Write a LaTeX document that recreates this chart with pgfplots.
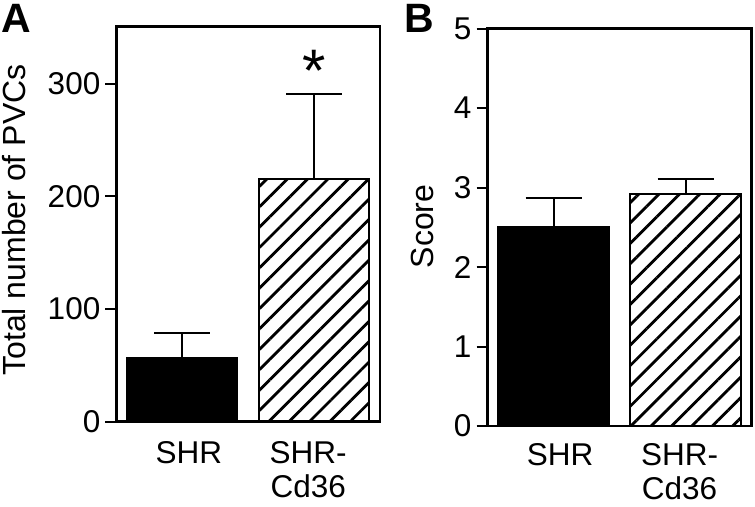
\documentclass[border=0pt]{standalone}
\usepackage{fontspec}
\setmainfont{Liberation Sans}
\usepackage{pgfplots}
\pgfplotsset{compat=1.18}
\usetikzlibrary{patterns.meta}
\begin{document}
\begin{tikzpicture}
\path[use as bounding box] (0,0) rectangle (755bp,-507bp);
\pgfplotsset{
  panel/.style={
    scale only axis, anchor=south west,
    xmin=-0.5, xmax=1.5, ymin=0,
    axis line style={line width=2.2bp},
    every tick/.style={line width=2bp, black},
    tick align=outside, major tick length=11bp,
    ytick pos=left, xtick pos=bottom,
    xtick style={draw=none},
    xtick={0.05,0.955}, xticklabels={SHR,SHR-\\Cd36},
    xticklabel style={align=center, anchor=north, inner sep=0pt, yshift=-9bp, font=\fontsize{31.5bp}{34bp}\selectfont},
    yticklabel style={anchor=east, inner sep=0pt, xshift=-5bp, font=\fontsize{31.5bp}{34bp}\selectfont},
    /pgf/number format/assume math mode=true,
    ylabel style={font=\fontsize{32bp}{34bp}\selectfont, anchor=base, inner sep=0pt},
    error bars/error bar style={line width=2bp, black},
    error bars/error mark options={rotate=90, mark size=28bp, line width=2bp, black},
  },
  blackbar/.style={ybar, bar shift=0pt, bar width=0.835, fill=black, draw=black, line width=2bp,
    error bars/.cd, y dir=plus, y explicit},
  hatchbar/.style={ybar, bar shift=0pt, bar width=0.835, draw=black, line width=2bp,
    pattern={Lines[angle=45,distance=14.4bp,line width=2.8bp]},
    error bars/.cd, y dir=plus, y explicit},
}
\begin{axis}[panel, at={(116.5bp,-421.5bp)}, width=263.5bp, height=395bp,
  ymax=351, ytick={0,100,200,300},
  ylabel={Total number of PVCs},
  ylabel style={at={(axis description cs:-0.347,0.51)}}]
\addplot[blackbar] coordinates {(0,56.4) +- (0,22.0)};
\addplot[hatchbar] coordinates {(1,215.6) +- (0,75.8)};
\node[anchor=base, inner sep=0pt, font=\fontsize{60bp}{60bp}\selectfont] at (axis cs:1,293) {*};
\end{axis}
\begin{axis}[panel, at={(487.5bp,-426bp)}, width=264bp, height=397.5bp,
  ymax=5, ytick={0,1,2,3,4,5},
  xticklabel style={yshift=3bp},
  ylabel={Score},
  ylabel style={at={(axis description cs:-0.206,0.502)}}]
\addplot[blackbar] coordinates {(0,2.503) +- (0,0.369)};
\addplot[hatchbar] coordinates {(1,2.922) +- (0,0.185)};
\end{axis}
\node[anchor=base west, inner sep=0pt, font=\fontsize{41bp}{41bp}\selectfont\bfseries] at (1bp,-32bp) {A};
\node[anchor=base west, inner sep=0pt, font=\fontsize{41bp}{41bp}\selectfont\bfseries] at (404bp,-32bp) {B};
\end{tikzpicture}
\end{document}
